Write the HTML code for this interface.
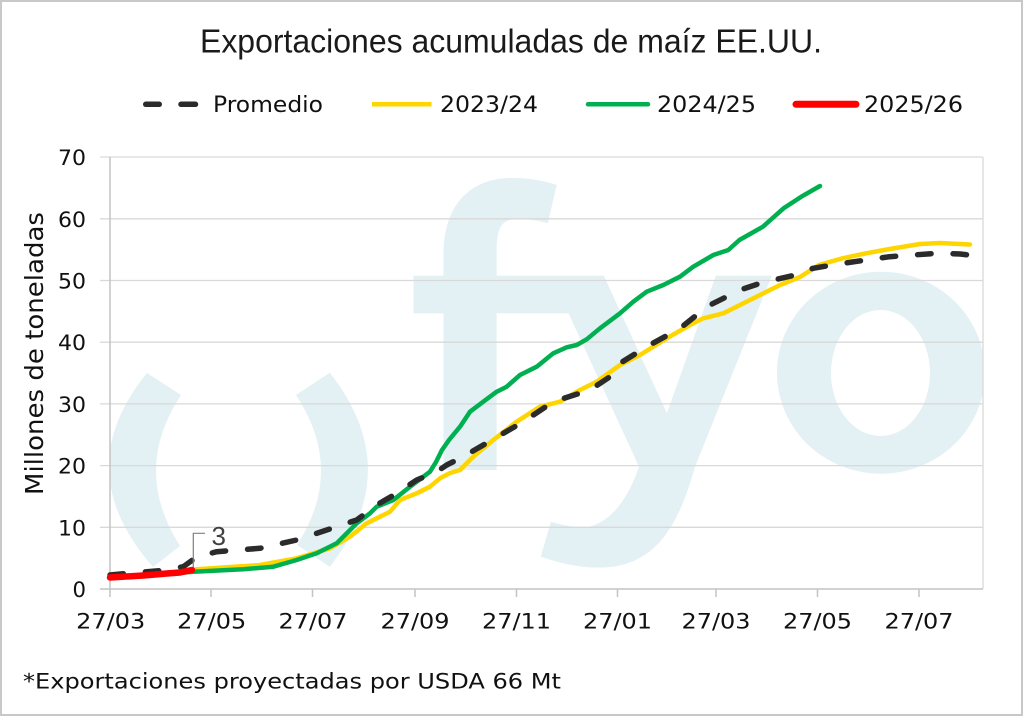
<!DOCTYPE html>
<html>
<head>
<meta charset="utf-8">
<style>
  html,body{margin:0;padding:0;background:#fff;}
  svg{display:block;}
</style>
</head>
<body>
<svg width="1024" height="716" viewBox="0 0 1024 716" xmlns="http://www.w3.org/2000/svg">
  <rect x="0" y="0" width="1024" height="716" fill="#ffffff"/>
  <rect x="1" y="1" width="1021" height="714" fill="none" stroke="#c8c8c8" stroke-width="2"/>

  <defs>
    <clipPath id="plot">
      <rect x="110" y="157" width="873" height="432"/>
    </clipPath>
  </defs>

  <!-- watermark -->
  <g clip-path="url(#plot)" fill="#e3f0f4">
    <path d="M147,373 Q68,470 153,567 L180,546 Q131.5,470 181,395 Z"/>
    <path d="M329.8,372.7 Q406,470 329.8,566.7 L297,545 Q345.5,470 296,395 Z"/>
    <path d="M443.5,470 L443.5,255 C443.5,205 470,178 512,178 C530,178 545,181 556.7,185 L547.8,223.3 C538,220 525,218.5 512,219.5 C500,221 496.6,232 496.6,250 L496.6,470 Z"/>
    <rect x="413.5" y="275.7" width="158" height="37.6"/>
    <path d="M568.5,275.7 L603.8,275.7 L666.9,413.3 L715.8,275.7 L771.8,275.7 L695,466.7 C680,520 660,560 612.7,566.7 C585,570 560,563 540.8,556.7 L550.8,521.7 C565,526 580,528 589,526.7 C610,522 628,500 639,466.7 L568.5,313.3 Z"/>
    <path fill-rule="evenodd" d="M777,372.7 A104,101 0 1,0 985,372.7 A104,101 0 1,0 777,372.7 Z M831,373 A49.5,63 0 1,0 930,373 A49.5,63 0 1,0 831,373 Z"/>
  </g>

  <!-- gridlines -->
  <g stroke="#d9d9d9" stroke-width="1.3" fill="none">
    <line x1="100" y1="157" x2="983" y2="157"/>
    <line x1="100" y1="218.8" x2="983" y2="218.8"/>
    <line x1="100" y1="280.5" x2="983" y2="280.5"/>
    <line x1="100" y1="342.2" x2="983" y2="342.2"/>
    <line x1="100" y1="403.9" x2="983" y2="403.9"/>
    <line x1="100" y1="465.6" x2="983" y2="465.6"/>
    <line x1="100" y1="527.3" x2="983" y2="527.3"/>
    <line x1="983" y1="157" x2="983" y2="589"/>
  </g>
  <g stroke="#c4c4c4" stroke-width="1.5" fill="none">
    <line x1="110" y1="157" x2="110" y2="597"/>
    <line x1="100" y1="589" x2="983" y2="589"/>
    <line x1="211" y1="589" x2="211" y2="597"/>
    <line x1="312.5" y1="589" x2="312.5" y2="597"/>
    <line x1="415" y1="589" x2="415" y2="597"/>
    <line x1="516.5" y1="589" x2="516.5" y2="597"/>
    <line x1="617.5" y1="589" x2="617.5" y2="597"/>
    <line x1="716" y1="589" x2="716" y2="597"/>
    <line x1="817.5" y1="589" x2="817.5" y2="597"/>
    <line x1="919" y1="589" x2="919" y2="597"/>
  </g>

  <!-- series -->
  <g fill="none" stroke-linejoin="round" stroke-linecap="round">
    <polyline stroke="#FFD500" stroke-width="4.5" points="110,577 143,575.5 170,573 196.7,569.3 260,565 296.7,558.3 330,548.3 350,536.7 366.7,523.3 380,516.7 390,511.7 400,500 416.7,493.3 430,486.7 440,478.3 450,473 460,470 473.3,456.7 493.3,440 516.7,421.7 540,406.7 560,401.7 580,390 596.7,381.7 620,365 640,355 666.7,338.3 690,325 703.3,318.3 723.3,313.3 740,305 760,295 780,285 800,277 818.9,265 842.5,258.3 866.1,253.3 889.6,249 905,246.5 920,244 940,243 960,244 970,244.5"/>
    <polyline stroke="#00B050" stroke-width="4.5" points="143,576 167,574 193.3,571.7 243.3,569.3 273.3,566.7 296.7,560 316.7,553.3 336.7,543.3 356.7,523.3 370,513.3 376.7,506.7 393.3,500 410,486.7 430,471.7 436,462 442,450 449,440 460,426.7 470,411.7 483.3,401.7 496.7,391.7 506.7,386.7 520,375 536.7,366.7 553.3,353.3 566.7,347.3 576.7,345 586.7,339.3 600,328.3 620,313.3 633.3,301.7 646.7,291.7 663.3,285 680,276.7 693.3,266.7 713.3,255 728.3,250 739.4,240 762.9,226.7 783.6,208.3 801.3,196.7 820,186"/>
    <polyline stroke="#2b2b2b" stroke-width="5.5" stroke-dasharray="13.5 22" points="110,575 147,571.7 160,570.7 183.3,566.7 196.7,557 216.7,551.7 260,548.3 296.7,540 326.7,530 356.7,520 376.7,505 396.7,493.3 416.7,480 436.7,471.7 446.7,465 463.3,456.7 483.3,445 523.3,421.7 553.3,401.7 590,390 610,376.7 620,363.3 646.7,346.7 680,328.3 696.7,315 706.7,306.7 726.7,296.7 740,290 760,283.3 776.7,279.3 795.3,275 813,268.3 836.6,264.3 866.1,260 889.6,256.7 913.2,255 936.8,253.3 960.3,254 983,256.7"/>
    <polyline stroke="#FF0000" stroke-width="6.5" points="110,577.5 143.3,575.5 166.7,573.5 180,572.5 192,570"/>
  </g>

  <!-- annotation -->
  <polyline points="193.3,567 193.3,533.3 205,533.3" fill="none" stroke="#808080" stroke-width="1.2"/>
  <text x="211.5" y="545" font-family="Liberation Sans, sans-serif" font-size="26" fill="#404040">3</text>

  <!-- title -->
  <text x="200" y="52.7" font-family="Liberation Sans, sans-serif" font-size="33" fill="#1a1a1a" textLength="622" lengthAdjust="spacingAndGlyphs">Exportaciones acumuladas de maíz EE.UU.</text>

  <!-- legend -->
  <g stroke-linecap="round" fill="none">
    <line x1="145.75" y1="104.3" x2="159.25" y2="104.3" stroke="#2b2b2b" stroke-width="5.5"/>
    <line x1="181" y1="104.3" x2="195.5" y2="104.3" stroke="#2b2b2b" stroke-width="5.5"/>
    <line x1="372" y1="104.3" x2="431.5" y2="104.3" stroke="#FFD500" stroke-width="4.5" stroke-linecap="butt"/>
    <line x1="588" y1="104.3" x2="648" y2="104.3" stroke="#00B050" stroke-width="4.5"/>
    <line x1="796" y1="104.3" x2="856" y2="104.3" stroke="#FF0000" stroke-width="7"/>
  </g>
  <g font-family="DejaVu Sans, Liberation Sans, sans-serif" font-size="22" fill="#111">
    <text x="213" y="112" textLength="110" lengthAdjust="spacingAndGlyphs">Promedio</text>
    <text x="440" y="112" textLength="98" lengthAdjust="spacingAndGlyphs">2023/24</text>
    <text x="657" y="112" textLength="99" lengthAdjust="spacingAndGlyphs">2024/25</text>
    <text x="864" y="112" textLength="99" lengthAdjust="spacingAndGlyphs">2025/26</text>
  </g>

  <!-- y tick labels -->
  <g font-family="DejaVu Sans, Liberation Sans, sans-serif" font-size="21" fill="#111" text-anchor="end">
    <text x="86" y="165" textLength="28" lengthAdjust="spacingAndGlyphs">70</text>
    <text x="86" y="226.8" textLength="28" lengthAdjust="spacingAndGlyphs">60</text>
    <text x="86" y="288.5" textLength="28" lengthAdjust="spacingAndGlyphs">50</text>
    <text x="86" y="350.2" textLength="28" lengthAdjust="spacingAndGlyphs">40</text>
    <text x="86" y="411.9" textLength="28" lengthAdjust="spacingAndGlyphs">30</text>
    <text x="86" y="473.6" textLength="28" lengthAdjust="spacingAndGlyphs">20</text>
    <text x="86" y="535.3" textLength="28" lengthAdjust="spacingAndGlyphs">10</text>
    <text x="86" y="597" textLength="13.5" lengthAdjust="spacingAndGlyphs">0</text>
  </g>

  <!-- y axis title -->
  <text transform="translate(43,353.5) rotate(-90)" x="0" y="0" text-anchor="middle" font-family="DejaVu Sans, Liberation Sans, sans-serif" font-size="25" fill="#111" textLength="283" lengthAdjust="spacingAndGlyphs">Millones de toneladas</text>

  <!-- x tick labels -->
  <g font-family="DejaVu Sans, Liberation Sans, sans-serif" font-size="21" fill="#111" text-anchor="middle">
    <text x="110.7" y="628.5" textLength="69" lengthAdjust="spacingAndGlyphs">27/03</text>
    <text x="211.7" y="628.5" textLength="69" lengthAdjust="spacingAndGlyphs">27/05</text>
    <text x="313" y="628.5" textLength="69" lengthAdjust="spacingAndGlyphs">27/07</text>
    <text x="415" y="628.5" textLength="69" lengthAdjust="spacingAndGlyphs">27/09</text>
    <text x="516.5" y="628.5" textLength="69" lengthAdjust="spacingAndGlyphs">27/11</text>
    <text x="617.5" y="628.5" textLength="69" lengthAdjust="spacingAndGlyphs">27/01</text>
    <text x="716" y="628.5" textLength="69" lengthAdjust="spacingAndGlyphs">27/03</text>
    <text x="817.5" y="628.5" textLength="69" lengthAdjust="spacingAndGlyphs">27/05</text>
    <text x="919" y="628.5" textLength="69" lengthAdjust="spacingAndGlyphs">27/07</text>
  </g>

  <!-- footnote -->
  <text x="23" y="688.3" font-family="DejaVu Sans, Liberation Sans, sans-serif" font-size="21" fill="#111" textLength="538" lengthAdjust="spacingAndGlyphs">*Exportaciones proyectadas por USDA 66 Mt</text>
</svg>
</body>
</html>
